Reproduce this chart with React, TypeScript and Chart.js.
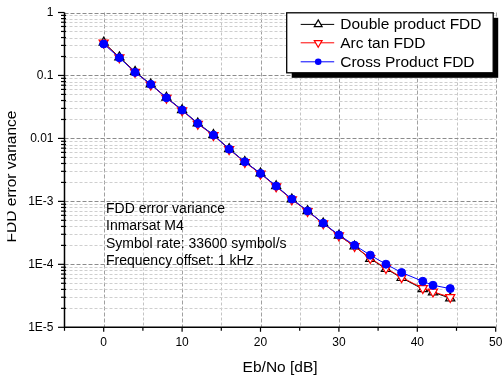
import React, { useEffect, useRef } from "react";
import { Chart, registerables } from "chart.js";

Chart.register(...registerables);

// ---- data ----
const ebNo = [0, 2, 4, 6, 8, 10, 12, 14, 16, 18, 20, 22, 24, 26, 28, 30, 32, 34, 36, 38, 40.7, 42, 44.2];

const doubleProduct = [
  0.335, 0.195, 0.115, 0.0725, 0.0447, 0.0283, 0.0174, 0.0114, 0.00682, 0.00425, 0.00279, 0.00175,
  0.00108, 7.05e-4, 4.48e-4, 2.88e-4, 1.93e-4, 1.23e-4, 8.5e-5, 6.1e-5, 4.05e-5, 3.6e-5, 2.9e-5,
];
const arcTan = [
  0.33, 0.192, 0.113, 0.0715, 0.044, 0.0278, 0.017, 0.0112, 0.0067, 0.00418, 0.00274, 0.00172,
  0.00107, 7.0e-4, 4.46e-4, 2.86e-4, 1.94e-4, 1.25e-4, 8.67e-5, 6.23e-5, 4.17e-5, 3.67e-5, 3.0e-5,
];
const crossProduct = [
  0.316, 0.191, 0.112, 0.0722, 0.0442, 0.0282, 0.0173, 0.0113, 0.00676, 0.00425, 0.00278, 0.00175,
  0.00109, 7.06e-4, 4.5e-4, 2.93e-4, 2.01e-4, 1.4e-4, 1.005e-4, 7.41e-5, 5.38e-5, 4.65e-5, 4.12e-5,
];

const seriesNames = ["Double product FDD", "Arc tan FDD", "Cross Product FDD"];
const seriesColors = ["#000000", "#ff0000", "#0000ff"];

const xMajorTicks = [0, 10, 20, 30, 40, 50];
const yDecades = [1e-5, 1e-4, 1e-3, 0.01, 0.1, 1];
const yDecadeLabels = ["1E-5", "1E-4", "1E-3", "0.01", "0.1", "1"];

const noteLines = ["FDD error variance", "Inmarsat M4", "Symbol rate: 33600 symbol/s", "Frequency offset: 1 kHz"];
const xTitle = "Eb/No [dB]";
const yTitle = "FDD error variance";

const FONT = "'Liberation Sans', Arial, sans-serif";

function isDecade(v: number) {
  const l = Math.log10(v);
  return Math.abs(l - Math.round(l)) < 1e-6;
}

const framePlugin = {
  id: "frame",
  beforeDatasetsDraw(chart: any) {
    const { ctx, chartArea } = chart;
    const xs = chart.scales.x;
    const ys = chart.scales.y;
    const { left, right, top, bottom } = chartArea;
    ctx.save();
    ctx.lineWidth = 1;
    // vertical grid
    xs.ticks.forEach((t: any) => {
      const px = Math.round(xs.getPixelForValue(t.value)) + 0.5;
      if (px <= left + 1) return;
      const major = xMajorTicks.includes(t.value);
      ctx.strokeStyle = major ? "#a0a0a0" : "#c4c4c4";
      ctx.setLineDash(major ? [4, 2] : [3, 2]);
      ctx.beginPath();
      ctx.moveTo(px, top);
      ctx.lineTo(px, bottom);
      ctx.stroke();
    });
    // horizontal grid
    ys.ticks.forEach((t: any) => {
      const py = Math.round(ys.getPixelForValue(t.value)) + 0.5;
      if (py >= bottom - 1) return;
      const major = isDecade(t.value);
      ctx.strokeStyle = major ? "#8c8c8c" : "#cfcfcf";
      ctx.setLineDash(major ? [4, 2] : [3, 2]);
      ctx.beginPath();
      ctx.moveTo(left, py);
      ctx.lineTo(right, py);
      ctx.stroke();
    });
    ctx.setLineDash([]);
    // axis lines
    ctx.strokeStyle = "#000";
    ctx.lineWidth = 1.5;
    ctx.beginPath();
    ctx.moveTo(left, top);
    ctx.lineTo(left, bottom);
    ctx.lineTo(right, bottom);
    ctx.stroke();
    // tick marks
    ctx.lineWidth = 1.2;
    xs.ticks.forEach((t: any) => {
      const px = xs.getPixelForValue(t.value);
      const major = xMajorTicks.includes(t.value);
      ctx.beginPath();
      ctx.moveTo(px, bottom);
      ctx.lineTo(px, bottom + (major ? 4.5 : 3.5));
      ctx.stroke();
    });
    ys.ticks.forEach((t: any) => {
      const py = ys.getPixelForValue(t.value);
      const major = isDecade(t.value);
      ctx.beginPath();
      if (major) {
        ctx.moveTo(left - 6.5, py);
        ctx.lineTo(left, py);
      } else {
        ctx.moveTo(left - 3.5, py);
        ctx.lineTo(left + 1.5, py);
      }
      ctx.stroke();
    });
    ctx.restore();
  },
  afterDraw(chart: any) {
    const { ctx, chartArea } = chart;
    // legend box
    const w = 206.5;
    const h = 60;
    const x = chartArea.right - 2.5 - w;
    const y = chartArea.top + 0.3;
    ctx.save();
    ctx.fillStyle = "#000";
    ctx.fillRect(x + 5, y + 5, w, h);
    ctx.fillStyle = "#fff";
    ctx.fillRect(x, y, w, h);
    ctx.strokeStyle = "#000";
    ctx.lineWidth = 1.3;
    ctx.strokeRect(x, y, w, h);
    const rows = [11.6, 30, 49];
    chart.data.datasets.forEach((ds: any, i: number) => {
      const ry = y + rows[i];
      const color = ds.borderColor;
      ctx.strokeStyle = color;
      ctx.lineWidth = 1;
      ctx.beginPath();
      ctx.moveTo(x + 14, ry);
      ctx.lineTo(x + 47.5, ry);
      ctx.stroke();
      const mx = x + 31.5;
      ctx.lineWidth = 1.2;
      if (i === 0 || i === 1) {
        const r = 4.5;
        const dir = i === 0 ? -1 : 1;
        ctx.beginPath();
        ctx.moveTo(mx, ry + dir * r);
        ctx.lineTo(mx + r * 0.866, ry - dir * r * 0.5);
        ctx.lineTo(mx - r * 0.866, ry - dir * r * 0.5);
        ctx.closePath();
        ctx.fillStyle = "#fff";
        ctx.fill();
        ctx.stroke();
      } else {
        ctx.beginPath();
        ctx.arc(mx, ry, 3.3, 0, Math.PI * 2);
        ctx.fillStyle = color;
        ctx.fill();
      }
      ctx.fillStyle = "#000";
      ctx.font = `15.5px ${FONT}`;
      ctx.textBaseline = "middle";
      ctx.textAlign = "left";
      ctx.fillText(ds.label, x + 53.5, ry + 0.5);
    });
    // annotation
    ctx.font = `14px ${FONT}`;
    ctx.fillStyle = "#000";
    ctx.textBaseline = "middle";
    ctx.textAlign = "left";
    noteLines.forEach((line, i) => {
      ctx.fillText(line, chartArea.left + 41.5, chartArea.top + 196.8 + i * 17.3);
    });
    // y title (clipped at the page's left edge as in the reference)
    ctx.save();
    ctx.beginPath();
    ctx.rect(7.2, 0, 60, chart.height);
    ctx.clip();
    ctx.translate(16.4, 176.5);
    ctx.rotate(-Math.PI / 2);
    ctx.font = `15.5px ${FONT}`;
    ctx.textAlign = "center";
    ctx.textBaseline = "alphabetic";
    ctx.fillText(yTitle, 0, 0);
    ctx.restore();
    ctx.restore();
  },
};

export default function App() {
  const ref = useRef<HTMLCanvasElement | null>(null);

  useEffect(() => {
    document.body.style.margin = "0";
    const canvas = ref.current;
    if (!canvas) return;
    const mk = (vals: number[]) => ebNo.map((x, i) => ({ x, y: vals[i] }));
    const chart = new Chart(canvas, {
      type: "line",
      data: {
        datasets: [
          {
            label: seriesNames[0],
            data: mk(doubleProduct),
            borderColor: seriesColors[0],
            backgroundColor: "#ffffff",
            borderWidth: 1,
            pointStyle: "triangle",
            pointRadius: 5.3,
            pointBorderWidth: 1.2,
            pointBackgroundColor: "#ffffff",
            pointBorderColor: seriesColors[0],
            order: 2,
          },
          {
            label: seriesNames[1],
            data: mk(arcTan),
            borderColor: seriesColors[1],
            backgroundColor: "#ffffff",
            borderWidth: 1,
            pointStyle: "triangle",
            rotation: 180,
            pointRadius: 5.3,
            pointBorderWidth: 1.2,
            pointBackgroundColor: "#ffffff",
            pointBorderColor: seriesColors[1],
            order: 1,
          },
          {
            label: seriesNames[2],
            data: mk(crossProduct),
            borderColor: seriesColors[2],
            backgroundColor: seriesColors[2],
            borderWidth: 1,
            pointStyle: "circle",
            pointRadius: 4,
            pointBorderWidth: 1,
            pointBackgroundColor: seriesColors[2],
            pointBorderColor: seriesColors[2],
            order: 0,
          },
        ],
      },
      options: {
        animation: false,
        responsive: false,
        maintainAspectRatio: false,
        layout: { padding: { left: 0, right: 7.3, top: 12.5, bottom: 0 } },
        plugins: { legend: { display: false }, tooltip: { enabled: false }, title: { display: false } },
        elements: { line: { tension: 0 } },
        scales: {
          x: {
            type: "linear",
            min: -5,
            max: 50,
            grid: { display: false, drawTicks: false },
            border: { display: false },
            ticks: {
              stepSize: 5,
              autoSkip: false,
              maxRotation: 0,
              padding: 8,
              color: "#000",
              font: { family: FONT, size: 12 },
              callback: (v: any) => (xMajorTicks.includes(Number(v)) ? String(v) : ""),
            },
            title: {
              display: true,
              text: xTitle,
              color: "#000",
              font: { family: FONT, size: 15.5 },
              padding: { top: 0, bottom: 2.4 },
            },
            afterFit: (s: any) => {
              s.height = 51.7;
              s.paddingLeft = 0;
              s.paddingRight = 0;
            },
          },
          y: {
            type: "logarithmic",
            min: 1e-5,
            max: 1,
            grid: { display: false, drawTicks: false },
            border: { display: false },
            afterBuildTicks: (s: any) => {
              const ticks: any[] = [];
              yDecades.forEach((d, i) => {
                ticks.push({ value: d, major: true });
                if (i < yDecades.length - 1) {
                  for (let m = 2; m <= 9; m++) ticks.push({ value: d * m, major: false });
                }
              });
              s.ticks = ticks;
            },
            ticks: {
              autoSkip: false,
              padding: 11,
              color: "#000",
              font: { family: FONT, size: 12 },
              callback: (v: any) => {
                const idx = yDecades.findIndex((d) => Math.abs(d - Number(v)) / d < 1e-6);
                return idx >= 0 ? yDecadeLabels[idx] : "";
              },
            },
            title: { display: false },
            afterFit: (s: any) => {
              s.width = 64.5;
              s.paddingTop = 0;
              s.paddingBottom = 0;
            },
          },
        },
      },
      plugins: [framePlugin],
    } as any);
    return () => chart.destroy();
  }, []);

  return (
    <div style={{ width: 503, height: 379, position: "relative" }}>
      <canvas ref={ref} width={503} height={379} style={{ display: "block" }} />
    </div>
  );
}
